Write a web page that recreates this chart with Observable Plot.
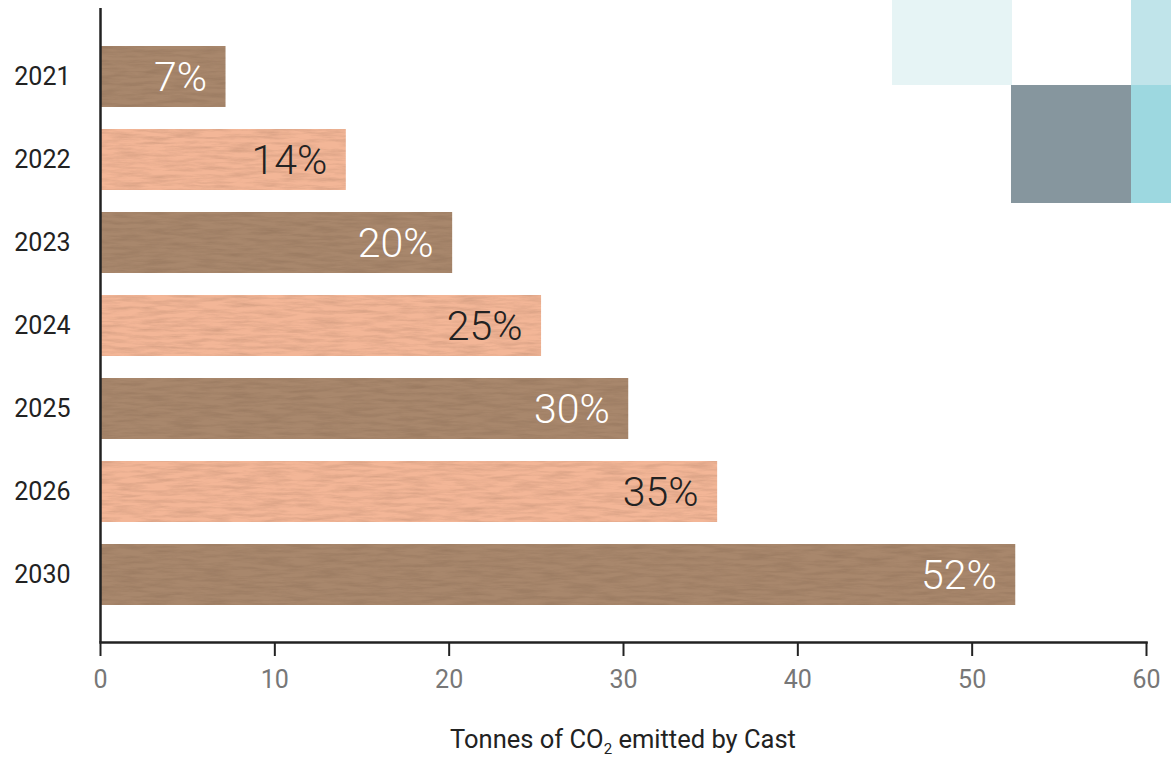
<!DOCTYPE html>
<html>
<head>
<meta charset="utf-8">
<script src="https://cdn.jsdelivr.net/npm/d3@7"></script>
<script src="https://cdn.jsdelivr.net/npm/@observablehq/plot@0.6"></script>
<style>
  html, body { margin: 0; padding: 0; background: #fff; }
  #wrap { position: relative; width: 1171px; height: 757px; overflow: hidden; font-family: Roboto, "Noto Sans", sans-serif; }
  .deco { position: absolute; }
  #chart { position: absolute; left: 0; top: 0; }
  #caption { position: absolute; left: 100px; width: 1046px; top: 724px; text-align: center; font-size: 25.5px; color: #222; line-height: 30px; }
  #caption sub { font-size: 15px; vertical-align: -6px; line-height: 0; }
</style>
</head>
<body>
<div id="wrap">
  <div class="deco" style="left:892px;top:0;width:120px;height:85px;background:#e6f4f5"></div>
  <div class="deco" style="left:1131px;top:0;width:40px;height:85px;background:#c0e4ea"></div>
  <div class="deco" style="left:1011px;top:85px;width:120px;height:118px;background:#86969e"></div>
  <div class="deco" style="left:1131px;top:85px;width:40px;height:118px;background:#9dd8e0"></div>
  <div id="chart"></div>
  <div id="caption">Tonnes of CO<sub>2</sub> emitted by Cast</div>
</div>
<script>
const years = ["2021", "2022", "2023", "2024", "2025", "2026", "2030"];
const tonnes = [7.2, 14.1, 20.2, 25.3, 30.3, 35.4, 52.5];
const percents = [7, 14, 20, 25, 30, 35, 52];
const xTicks = [0, 10, 20, 30, 40, 50, 60];

const dark = "#a8876c";
const light = "#f3b697";

const data = years.map((y, i) => ({year: y, value: tonnes[i], pct: percents[i], i}));

const plot = Plot.plot({
  width: 1171,
  height: 712,
  marginTop: 8,
  marginBottom: 70,
  marginLeft: 100,
  marginRight: 25,
  style: {fontFamily: "Roboto, sans-serif", background: "transparent", overflow: "visible"},
  x: {domain: [0, 60], ticks: xTicks},
  y: {domain: years, padding: 0.265, insetTop: 16, insetBottom: 15},
  marks: [
    Plot.barX(data, {x: "value", y: "year", fill: d => d.i % 2 ? light : dark}),
    Plot.text(data, {x: "value", y: "year", text: d => d.pct + "%", textAnchor: "end", dx: -19, dy: 1, fontSize: 41, fontWeight: 300,
      fill: d => d.i % 2 ? "#222" : "#fff"}),
    Plot.axisX({ticks: xTicks, tickSize: 14, tickPadding: 14, fontSize: 25, color: "#777", stroke: "#222", strokeWidth: 2, label: null}),
    Plot.axisY({tickSize: 0, tickPadding: 30, fontSize: 25, color: "#222", label: null}),
    Plot.ruleX([0], {stroke: "#222", strokeWidth: 2.5}),
    Plot.frame({anchor: "bottom", stroke: "#222", strokeWidth: 2.5})
  ]
});
plot.querySelectorAll("[aria-label='x-axis tick label'] text").forEach(t => t.setAttribute("fill", "#777"));
plot.querySelectorAll("[aria-label='x-axis tick'] path").forEach(p => p.setAttribute("stroke", "#222"));

// subtle cardboard texture on the bars
const ns = "http://www.w3.org/2000/svg";
const defs = document.createElementNS(ns, "defs");
defs.innerHTML = `
<filter id="paper" x="0" y="0" width="100%" height="100%" color-interpolation-filters="sRGB">
  <feTurbulence type="fractalNoise" baseFrequency="0.035 0.28" numOctaves="4" seed="7" result="n"/>
  <feColorMatrix in="n" type="matrix" values="0 0 0 0 0.35  0 0 0 0 0.25  0 0 0 0 0.18  0.32 0 0 0 -0.12" result="tint"/>
  <feComposite in="tint" in2="SourceGraphic" operator="in" result="t2"/>
  <feMerge><feMergeNode in="SourceGraphic"/><feMergeNode in="t2"/></feMerge>
</filter>`;
plot.insertBefore(defs, plot.firstChild);
plot.querySelectorAll("[aria-label='bar'] rect").forEach(r => r.setAttribute("filter", "url(#paper)"));
document.getElementById("chart").appendChild(plot);
</script>
</body>
</html>
